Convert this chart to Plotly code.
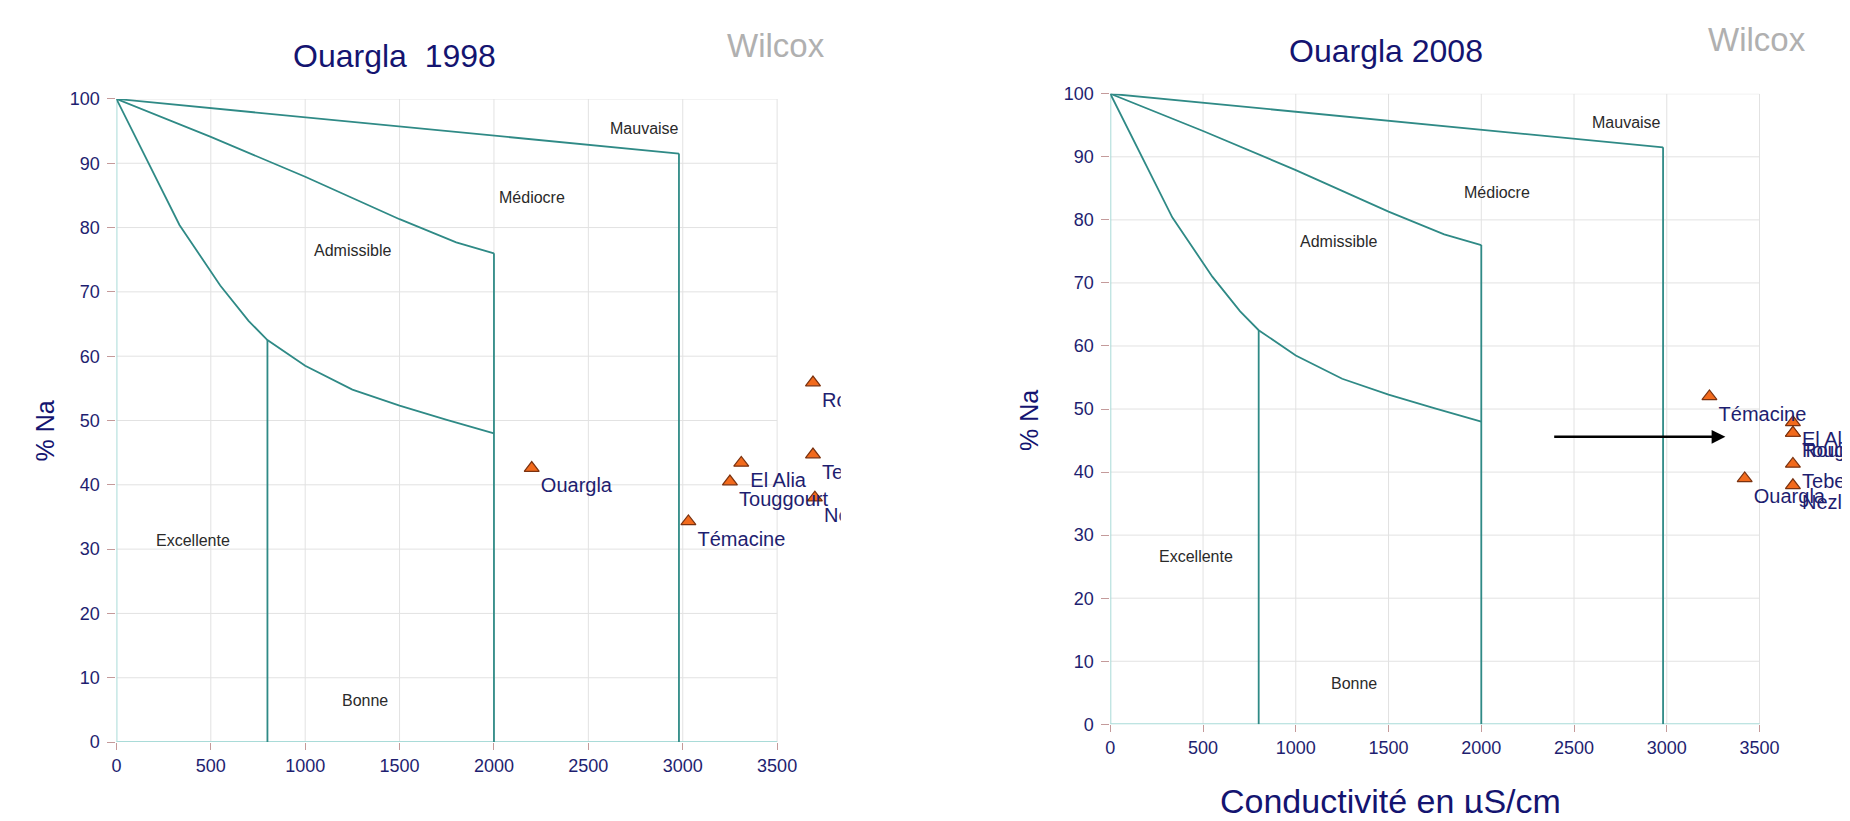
import plotly.graph_objects as go

# ---------------- Data ----------------
# Wilcox diagram boundaries (conductivity uS/cm, % Na)
excellente_x = [0, 200, 334, 550, 700, 800, 1000, 1250, 1500, 1750, 2000]
excellente_y = [100, 88.2, 80.4, 71, 65.5, 62.5, 58.5, 54.8, 52.3, 50.1, 48]
admissible_x = [0, 500, 1000, 1500, 1800, 2000]
admissible_y = [100, 94.1, 87.9, 81.3, 77.7, 76]
mediocre_x = [0, 2980]
mediocre_y = [100, 91.5]
vertical_x = [800, 2000, 2980]
vertical_top = [62.5, 76, 91.5]

# Region labels
region_names = ["Mauvaise", "Médiocre", "Admissible", "Excellente", "Bonne"]
region_x_1998 = [2797, 2202, 1249, 408, 1315]
region_y_1998 = [95.4, 84.6, 76.4, 31.3, 6.5]
region_x_2008 = [2783, 2085, 1229, 460, 1314]
region_y_2008 = [95.5, 84.4, 76.6, 26.6, 6.5]

# Samples
stations = ["Ouargla", "El Alia", "Touggourt", "Témacine", "Rouissat", "Tebesbest", "Nezla"]
cond_1998 = [2200, 3310, 3250, 3030, 3690, 3690, 3700]
na_1998 = [42.6, 43.4, 40.5, 34.3, 55.9, 44.7, 38.0]
cond_2008 = [3420, 3680, 3680, 3230, 3680, 3680, 3680]
na_2008 = [39.0, 47.9, 46.2, 52.0, 46.2, 41.3, 37.9]

x_ticks = [0, 500, 1000, 1500, 2000, 2500, 3000, 3500]
y_ticks = [0, 10, 20, 30, 40, 50, 60, 70, 80, 90, 100]

# ---------------- Styles ----------------
FONT = "Liberation Sans, Arial, sans-serif"
NAVY = "#1e1e70"
TEAL = "#2f8a86"
AXIS_TEAL = "#a9dbd8"
GRID = "#e2e2e2"
TICKC = "#c49a9a"

# page has an 8px body margin: figure drawn at (8, 8)
OFF = 8
W, H = 1834, 805

fig = go.Figure()

panels = [
    dict(xa="x", ya="y", cond=cond_1998, na=na_1998, rx=region_x_1998, ry=region_y_1998),
    dict(xa="x2", ya="y2", cond=cond_2008, na=na_2008, rx=region_x_2008, ry=region_y_2008),
]

shapes = []
annotations = []

for p in panels:
    xa, ya = p["xa"], p["ya"]
    for xv in x_ticks[1:]:
        shapes.append(dict(type="line", xref=xa, yref=ya, x0=xv, x1=xv, y0=0, y1=100,
                           line=dict(color=GRID, width=1), layer="below"))
    for yv in y_ticks[1:]:
        shapes.append(dict(type="line", xref=xa, yref=ya, x0=0, x1=3500, y0=yv, y1=yv,
                           line=dict(color=GRID, width=1), layer="below"))
    shapes.append(dict(type="line", xref=xa, yref=ya, x0=0, x1=3500, y0=0, y1=0,
                       line=dict(color=AXIS_TEAL, width=2), layer="below"))
    shapes.append(dict(type="line", xref=xa, yref=ya, x0=0, x1=0, y0=0, y1=100,
                       line=dict(color=AXIS_TEAL, width=2), layer="below"))

    for bx, by in [(excellente_x, excellente_y), (admissible_x, admissible_y), (mediocre_x, mediocre_y)]:
        fig.add_trace(go.Scatter(x=bx, y=by, xaxis=xa, yaxis=ya, mode="lines",
                                 line=dict(color=TEAL, width=1.8), cliponaxis=False,
                                 hoverinfo="skip", showlegend=False))
    for vx, vt in zip(vertical_x, vertical_top):
        fig.add_trace(go.Scatter(x=[vx, vx], y=[vt, 0], xaxis=xa, yaxis=ya, mode="lines",
                                 line=dict(color=TEAL, width=1.8), cliponaxis=False,
                                 hoverinfo="skip", showlegend=False))

    for name, rx, ry in zip(region_names, p["rx"], p["ry"]):
        annotations.append(dict(x=rx, y=ry, xref=xa, yref=ya, text=name, showarrow=False,
                                xanchor="center", yanchor="middle",
                                font=dict(family=FONT, size=16, color="#2a2a2a")))

    fig.add_trace(go.Scatter(x=p["cond"], y=p["na"], xaxis=xa, yaxis=ya, mode="markers+text",
                             text=stations, textposition="bottom right",
                             textfont=dict(family=FONT, size=20, color=NAVY),
                             marker=dict(symbol="triangle-up", size=13, color="#f26a1c",
                                         line=dict(color="#7a3210", width=1.2)),
                             cliponaxis=True, hoverinfo="skip", showlegend=False))

annotations.append(dict(x=3316, y=45.6, ax=2385, ay=45.6, xref="x2", yref="y2",
                        axref="x2", ayref="y2", text="", showarrow=True,
                        arrowhead=2, arrowsize=1.1, arrowwidth=2.5, arrowcolor="black"))


def px_x(v):
    return (v - OFF) / W


def px_y(v):
    return 1 - (v - OFF) / H


def label(x, y, text, size, color, angle=0, xanchor="center", yanchor="middle"):
    return dict(x=px_x(x), y=px_y(y), xref="paper", yref="paper", text=text,
                showarrow=False, textangle=angle, xanchor=xanchor, yanchor=yanchor,
                font=dict(family=FONT, size=size, color=color))


annotations += [
    label(391, 47, "Ouargla  1998", 32, "#141470"),
    label(1385, 42, "Ouargla 2008", 32, "#141470"),
    label(773, 36, "Wilcox", 33, "#b0b0b0"),
    label(1757, 30, "Wilcox", 33, "#b0b0b0"),
    label(41, 431, "% Na", 25, "#141470", angle=-90),
    label(1027, 421, "% Na", 25, "#141470", angle=-90),
    label(1216, 789, "Conductivité en µS/cm", 34, "#141470", xanchor="left", yanchor="top"),
]

axis_common = dict(showgrid=False, zeroline=False, showline=False, ticks="outside",
                   tickcolor=TICKC, tickwidth=1, tickfont=dict(family=FONT, size=18, color=NAVY))

fig.update_layout(
    width=W, height=H, margin=dict(l=0, r=0, t=0, b=0),
    paper_bgcolor="white", plot_bgcolor="white",
    xaxis=dict(domain=[(111.7 - OFF) / W, (838 - OFF) / W], range=[0, 3837], tickvals=x_ticks,
               ticklen=7, anchor="y", **axis_common),
    yaxis=dict(domain=[1 - (750.5 - OFF) / H, 1 - (91 - OFF) / H], range=[0, 100], tickvals=y_ticks,
               ticklen=8, ticklabelstandoff=4, anchor="x", **axis_common),
    xaxis2=dict(domain=[(1108.3 - OFF) / W, 1.0], range=[0, (1842 - 1108.3) / 0.186], tickvals=x_ticks,
                ticklen=7, anchor="y2", **axis_common),
    yaxis2=dict(domain=[1 - (732.3 - OFF) / H, 1 - (85.7 - OFF) / H], range=[0, 100], tickvals=y_ticks,
                ticklen=8, ticklabelstandoff=4, anchor="x2", **axis_common),
    shapes=shapes, annotations=annotations, showlegend=False,
)

fig.write_html("out.html")
